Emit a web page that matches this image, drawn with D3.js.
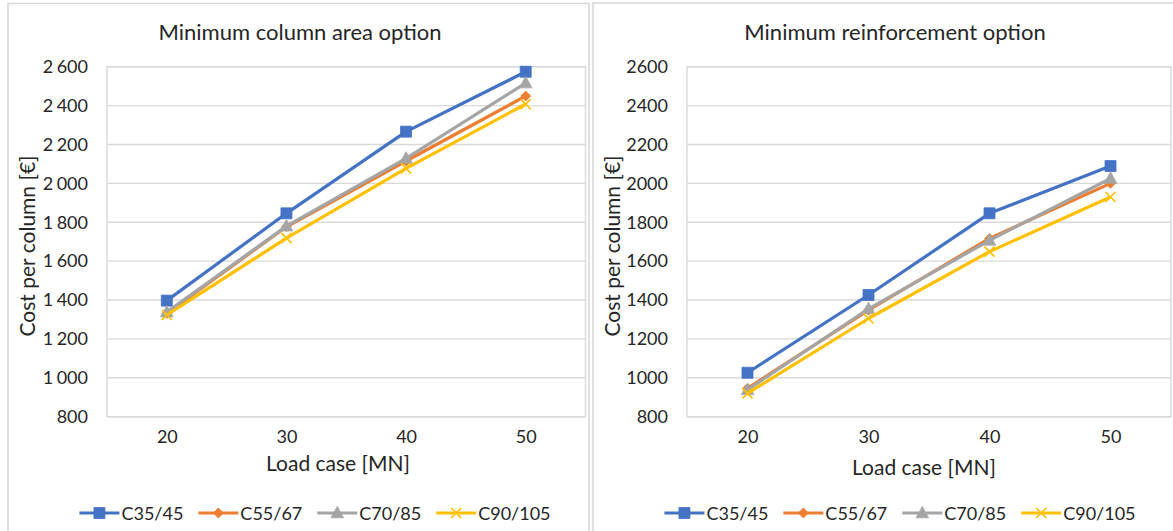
<!DOCTYPE html>
<html>
<head>
<meta charset="utf-8">
<script src="https://cdn.jsdelivr.net/npm/d3@7/dist/d3.min.js"></script>
<style>
  html, body { margin: 0; padding: 0; background: #fff; }
  svg { display: block; font-family: Lato, "Open Sans", sans-serif; }
</style>
</head>
<body>
<svg id="chart" width="1173" height="531"></svg>
<script>
// Load cases on the category axis [MN]
const loadCases = [20, 30, 40, 50];
const seriesNames = ["C35/45", "C55/67", "C70/85", "C90/105"];
const seriesColors = ["#4472C4", "#ED7D31", "#A5A5A5", "#FFC000"];
const seriesMarkers = ["square", "diamond", "triangle", "cross"];

// Cost per column [€] – minimum column area option
const areaC35 = [1397, 1846, 2266, 2574];
const areaC55 = [1331, 1777, 2115, 2449];
const areaC70 = [1338, 1780, 2129, 2516];
const areaC90 = [1323, 1718, 2077, 2408];

// Cost per column [€] – minimum reinforcement option
const reinfC35 = [1026, 1426, 1846, 2089];
const reinfC55 = [946, 1348, 1717, 2000];
const reinfC70 = [938, 1355, 1707, 2025];
const reinfC90 = [920, 1305, 1649, 1930];

// Value axis ticks
const yTicks = [800, 1000, 1200, 1400, 1600, 1800, 2000, 2200, 2400, 2600];
const yDomain = [800, 2600];

const textColor = "#262626";
const gridColor = "#d9d9d9";

const svg = d3.select("#chart");

// thousands grouped with a space ("2 600") or plain ("2600")
const spaced = v => d3.format(",")(v).replace(/,/g, "\u2009\u200a");
const plain = v => String(v);

const panels = [
  {
    title: "Minimum column area option",
    series: [areaC35, areaC55, areaC70, areaC90],
    fmt: spaced,
    frame: {x: 8, y: 3.5, w: 581},
    plot: {left: 107, right: 585.5, top: 66.7, bottom: 416.7},
    titleX: 300, yTitleX: 28, xTitleX: 338, xTitleY: 464, legendCx: 315
  },
  {
    title: "Minimum reinforcement option",
    series: [reinfC35, reinfC55, reinfC70, reinfC90],
    fmt: plain,
    frame: {x: 593, y: 3, w: 600},
    plot: {left: 687, right: 1171, top: 66.7, bottom: 416.7},
    titleX: 895, yTitleX: 613, xTitleX: 924, xTitleY: 468, legendCx: 900
  }
];

function markerPath(type, size) {
  const h = size / 2;
  switch (type) {
    case "square": return `M${-h},${-h}H${h}V${h}H${-h}Z`;
    case "diamond": return `M0,${-h}L${h},0L0,${h}L${-h},0Z`;
    case "triangle": return `M0,${-h * 1.1}L${h * 1.05},${h * 0.8}L${-h * 1.05},${h * 0.8}Z`;
    case "cross": return `M${-h},${-h}L${h},${h}M${-h},${h}L${h},${-h}`;
  }
}

function drawMarker(g, type, color, x, y) {
  const sizes = {square: 11, diamond: 10, triangle: 12, cross: 10};
  const p = g.append("path")
    .attr("transform", `translate(${x},${y})`)
    .attr("d", markerPath(type, sizes[type]));
  if (type === "cross") {
    p.attr("fill", "none").attr("stroke", color).attr("stroke-width", 1.7);
  } else {
    p.attr("fill", color).attr("stroke", color).attr("stroke-width", 0.8);
  }
}

panels.forEach(pn => {
  const g = svg.append("g");

  // chart frame
  g.append("rect")
    .attr("x", pn.frame.x).attr("y", pn.frame.y)
    .attr("width", pn.frame.w).attr("height", 560)
    .attr("fill", "#fff").attr("stroke", gridColor).attr("stroke-width", 1.6);

  const x = d3.scalePoint()
    .domain(loadCases)
    .range([pn.plot.left, pn.plot.right])
    .padding(0.5);
  const y = d3.scaleLinear()
    .domain(yDomain)
    .range([pn.plot.bottom, pn.plot.top]);

  // horizontal gridlines
  g.append("g")
    .selectAll("line")
    .data(yTicks)
    .join("line")
    .attr("x1", pn.plot.left).attr("x2", pn.plot.right)
    .attr("y1", d => y(d)).attr("y2", d => y(d))
    .attr("stroke", gridColor).attr("stroke-width", 1.4);

  // plot area border
  g.append("rect")
    .attr("x", pn.plot.left).attr("y", pn.plot.top)
    .attr("width", pn.plot.right - pn.plot.left)
    .attr("height", pn.plot.bottom - pn.plot.top)
    .attr("fill", "none").attr("stroke", gridColor).attr("stroke-width", 1.4);

  // value axis labels
  const yAxis = d3.axisLeft(y).tickValues(yTicks).tickFormat(pn.fmt).tickSize(0).tickPadding(19);
  const ya = g.append("g").attr("transform", `translate(${pn.plot.left},0)`).call(yAxis);
  ya.select(".domain").remove();
  ya.selectAll("text").attr("fill", textColor).style("font-size", "18px")
    .style("font-family", "Lato, 'Open Sans', sans-serif");

  // category axis labels
  const xAxis = d3.axisBottom(x).tickSize(0).tickPadding(14);
  const xa = g.append("g").attr("transform", `translate(0,${pn.plot.bottom})`).call(xAxis);
  xa.select(".domain").remove();
  xa.selectAll("text").attr("fill", textColor).style("font-size", "18px")
    .style("font-family", "Lato, 'Open Sans', sans-serif");

  // chart title
  g.append("text")
    .attr("x", pn.titleX).attr("y", 40)
    .attr("text-anchor", "middle")
    .attr("fill", textColor)
    .style("font-size", "22px")
    .text(pn.title);

  // axis titles
  g.append("text")
    .attr("transform", `translate(${pn.yTitleX + 7},246) rotate(-90)`)
    .attr("text-anchor", "middle")
    .attr("fill", textColor)
    .style("font-size", "21px")
    .text("Cost per column [€]");

  g.append("text")
    .attr("x", pn.xTitleX).attr("y", pn.xTitleY + 7)
    .attr("text-anchor", "middle")
    .attr("fill", textColor)
    .style("font-size", "21px")
    .text("Load case [MN]");

  // series lines and markers
  const line = d3.line().x((d, i) => x(loadCases[i])).y(d => y(d));
  pn.series.forEach((vals, si) => {
    const sg = g.append("g");
    sg.append("path")
      .datum(vals)
      .attr("d", line)
      .attr("fill", "none")
      .attr("stroke", seriesColors[si])
      .attr("stroke-width", 3.2)
      .attr("stroke-linejoin", "round");
    vals.forEach((v, i) => drawMarker(sg, seriesMarkers[si], seriesColors[si], x(loadCases[i]), y(v)));
  });

  // legend
  const lg = g.append("g");
  const items = seriesNames.map((name, si) => {
    const it = lg.append("g");
    it.append("line")
      .attr("x1", 0).attr("x2", 40).attr("y1", 0).attr("y2", 0)
      .attr("stroke", seriesColors[si]).attr("stroke-width", 3.2);
    drawMarker(it, seriesMarkers[si], seriesColors[si], 20, 0);
    const t = it.append("text")
      .attr("x", 42).attr("y", 7)
      .attr("fill", textColor)
      .style("font-size", "18px")
      .text(name);
    return {it, w: 42 + t.node().getComputedTextLength()};
  });
  const gap = 15;
  const total = d3.sum(items, d => d.w) + gap * (items.length - 1);
  let cx = pn.legendCx - total / 2;
  items.forEach(d => {
    d.it.attr("transform", `translate(${cx},513)`);
    cx += d.w + gap;
  });
});
</script>
</body>
</html>
